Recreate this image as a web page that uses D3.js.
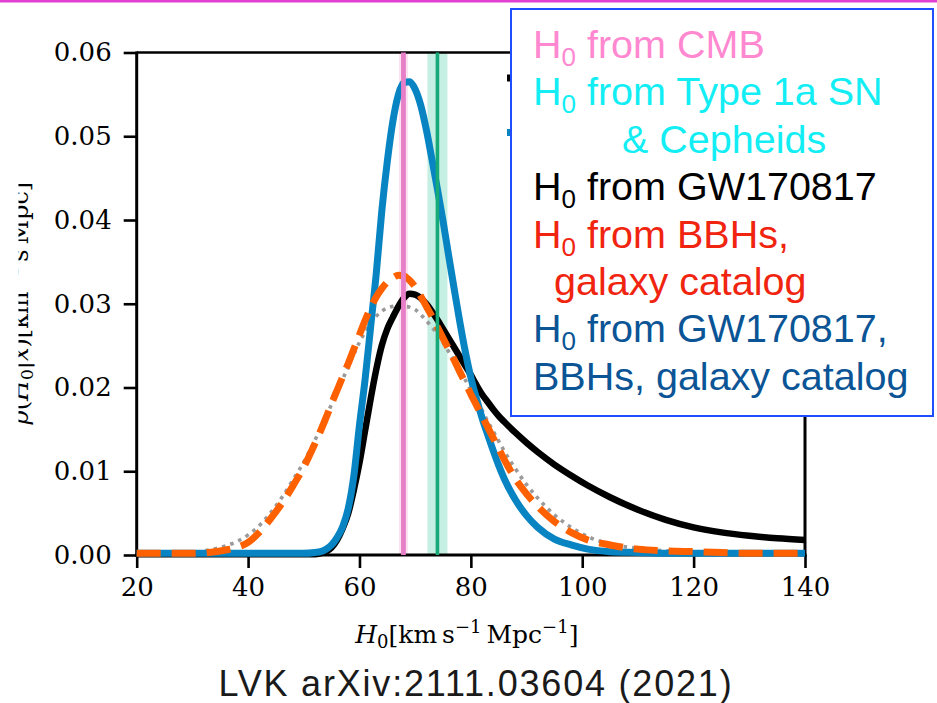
<!DOCTYPE html>
<html>
<head>
<meta charset="utf-8">
<script src="https://cdn.jsdelivr.net/npm/d3@7/dist/d3.min.js"></script>
<style>
  html, body { margin: 0; padding: 0; background: #fff; }
  svg { display: block; }
</style>
</head>
<body>
<script>
// H0 grid (km/s/Mpc) shared by all posterior curves
const h0 = [20, 25, 30, 33, 36, 38, 40, 42, 44, 46, 48, 50, 52, 53, 54, 55, 56, 57, 58, 59,
            60, 61, 62, 63, 64, 65, 66, 67, 68, 69, 70, 71, 72, 73, 74, 75, 76, 77, 78, 79,
            80, 81, 82, 83, 84, 85, 86, 88, 90, 92, 95, 98, 101, 105, 110, 115, 120, 125, 130, 135, 140];

// GW170817 + BBHs + galaxy catalog (combined)
const pCombined = [.0002, .0002, .0002, .0002, .0002, .0002, .0002, .0002, .0002, .0002, .0002, .0002, .0003, .0004, .0007, .0012, .0021, .0034, .0056, .0095,
                   .0155, .0209, .0272, .0335, .0410, .0470, .0518, .0550, .0564, .0565, .0556, .0537, .0508, .0473, .0437, .0399, .0358, .0318, .0279, .0243,
                   .0212, .0187, .0164, .0144, .0125, .0107, .0091, .0066, .0047, .0033, .0019, .0012, .0007, .0004, .0003, .0002, .0002, .0002, .0002, .0002, .0002];

// GW170817 (bright siren)
const pGW170817 = [.0001, .0001, .0001, .0001, .0001, .0001, .0001, .0001, .0001, .0001, .0001, .0001, .0001, .0002, .0004, .0009, .0018, .0032, .0050, .0078,
                   .0110, .0148, .0186, .0221, .0250, .0270, .0284, .0297, .0307, .0312, .0311, .0307, .0300, .0291, .0281, .0270, .0259, .0248, .0237, .0226,
                   .0215, .0203, .0192, .0183, .0174, .0166, .0159, .0146, .0134, .0123, .0108, .0095, .0083, .0069, .0054, .0042, .0033, .0027, .0023, .0020, .0018];

// BBHs + galaxy catalog
const pBBH = [.0002, .0002, .0002, .0003, .0006, .0009, .0015, .0027, .0043, .0061, .0082, .0105, .0133, .0148, .0164, .0181, .0197, .0213, .0229, .0246,
              .0263, .0280, .0295, .0308, .0318, .0326, .0331, .0334, .0333, .0328, .0320, .0309, .0297, .0285, .0272, .0259, .0246, .0233, .0219, .0206,
              .0192, .0179, .0166, .0153, .0140, .0127, .0114, .0091, .0073, .0058, .0040, .0027, .0018, .0012, .0007, .0005, .0004, .0003, .0002, .0002, .0002];

// BBHs, alternative analysis (dotted)
const pBBHAlt = [.0001, .0001, .0003, .0006, .0011, .0016, .0024, .0035, .0050, .0068, .0089, .0111, .0137, .0151, .0166, .0180, .0195, .0210, .0225, .0240,
                 .0254, .0266, .0277, .0285, .0291, .0295, .0297, .0298, .0297, .0296, .0293, .0287, .0280, .0272, .0264, .0254, .0243, .0232, .0221, .0209,
                 .0197, .0185, .0173, .0160, .0148, .0136, .0124, .0103, .0084, .0068, .0048, .0033, .0022, .0013, .0008, .0005, .0003, .0002, .0001, .0001, .0001];

// Reference measurements: [central value, half-width of band]
const h0CMB = [67.9, 0.8];
const h0SN = [74.0, 1.8];

const xTicks = [20, 40, 60, 80, 100, 120, 140];
const yTicks = [0, 0.01, 0.02, 0.03, 0.04, 0.05, 0.06];

// Legend text rows: [main, subscript, rest]
const legendRows = [
  ["H", "0", " from CMB"],
  ["H", "0", " from Type 1a SN"],
  ["", "", "& Cepheids"],
  ["H", "0", " from GW170817"],
  ["H", "0", " from BBHs,"],
  ["", "", "galaxy catalog"],
  ["H", "0", " from GW170817,"],
  ["", "", "BBHs, galaxy catalog"]
];
const caption = "LVK arXiv:2111.03604 (2021)";

// ---------------------------------------------------------------------------
const W = 937, H = 703;
const svg = d3.select("body").append("svg").attr("width", W).attr("height", H);

const plot = { left: 136.7, right: 805, top: 52.5, bottom: 555 };
const x = d3.scaleLinear().domain([20, 140]).range([plot.left, plot.right]);
const y = d3.scaleLinear().domain([0, 0.06]).range([plot.bottom, plot.top]);

// slide accent line along the top edge
svg.append("rect").attr("x", 0).attr("y", 0).attr("width", W).attr("height", 2.5).attr("fill", "#e23fd2");

// reference bands
const bands = svg.append("g");
bands.append("rect")
  .attr("x", x(h0CMB[0] - h0CMB[1])).attr("width", x(h0CMB[0] + h0CMB[1]) - x(h0CMB[0] - h0CMB[1]))
  .attr("y", plot.top).attr("height", plot.bottom - plot.top).attr("fill", "#fbe1f1");
bands.append("rect")
  .attr("x", x(h0SN[0] - h0SN[1])).attr("width", x(h0SN[0] + h0SN[1]) - x(h0SN[0] - h0SN[1]))
  .attr("y", plot.top).attr("height", plot.bottom - plot.top).attr("fill", "#c6efe3");

// axes
const tickFont = "'DejaVu Serif', serif";
const yAxis = svg.append("g").attr("transform", `translate(${plot.left},0)`)
  .call(d3.axisLeft(y).tickValues(yTicks).tickFormat(d3.format(".2f")).tickSize(13).tickPadding(12).tickSizeOuter(0));
const xAxis = svg.append("g").attr("transform", `translate(0,${plot.bottom})`)
  .call(d3.axisBottom(x).tickValues(xTicks).tickFormat(d3.format("d")).tickSize(13).tickPadding(10).tickSizeOuter(0));
[yAxis, xAxis].forEach(g => {
  g.select(".domain").remove();
  g.selectAll(".tick line").attr("stroke", "#000").attr("stroke-width", 2.6);
  g.selectAll(".tick text").attr("fill", "#000").style("font-family", tickFont).style("font-size", "26px");
});

// spines
const spines = svg.append("g").attr("stroke", "#000").attr("fill", "none");
spines.append("line").attr("x1", plot.left).attr("x2", plot.left).attr("y1", plot.top - 1).attr("y2", plot.bottom + 1.5).attr("stroke-width", 3);
spines.append("line").attr("x1", plot.left - 1.5).attr("x2", plot.right + 1.5).attr("y1", plot.bottom).attr("y2", plot.bottom).attr("stroke-width", 3);
spines.append("line").attr("x1", plot.left).attr("x2", plot.right).attr("y1", plot.top).attr("y2", plot.top).attr("stroke-width", 2.3);
spines.append("line").attr("x1", plot.right).attr("x2", plot.right).attr("y1", plot.top).attr("y2", plot.bottom + 1.5).attr("stroke-width", 3);

// posterior curves (dotted one underneath)
const line = d3.line().x(d => x(d[0])).y(d => y(d[1])).curve(d3.curveMonotoneX);
const series = [
  { p: pBBHAlt, color: "#9a9a9a", width: 3.6, dash: "3.6,5" },
  { p: pGW170817, color: "#000000", width: 6.5, dash: null },
  { p: pCombined, color: "#0884c2", width: 7, dash: null },
  { p: pBBH, color: "#ff6000", width: 7, dash: "24,11" }
];
const curves = svg.append("g").attr("fill", "none");
series.forEach(s => {
  curves.append("path")
    .datum(h0.map((h, i) => [h, s.p[i]]))
    .attr("d", line)
    .attr("stroke", s.color)
    .attr("stroke-width", s.width)
    .attr("stroke-dasharray", s.dash)
    .attr("stroke-linejoin", "round");
});

// reference lines
svg.append("line").attr("x1", x(h0CMB[0])).attr("x2", x(h0CMB[0]))
  .attr("y1", plot.top).attr("y2", plot.bottom).attr("stroke", "#e67fc7").attr("stroke-width", 4.8);
svg.append("line").attr("x1", x(h0SN[0])).attr("x2", x(h0SN[0]))
  .attr("y1", plot.top).attr("y2", plot.bottom).attr("stroke", "#15aa77").attr("stroke-width", 3.6);

// handle stubs of the plot's own legend, mostly under the text box
svg.append("line").attr("x1", 507).attr("x2", 530).attr("y1", 78).attr("y2", 78).attr("stroke", "#000").attr("stroke-width", 7);
svg.append("line").attr("x1", 507).attr("x2", 530).attr("y1", 132.5).attr("y2", 132.5).attr("stroke", "#0884c2").attr("stroke-width", 7);

// axis titles (y title is cut at the left by the slide edge)
svg.append("clipPath").attr("id", "ylabclip")
  .append("rect").attr("x", 18.5).attr("y", 0).attr("width", 100).attr("height", H);
const yLab = svg.append("g").attr("clip-path", "url(#ylabclip)")
  .append("text")
  .attr("transform", `translate(27.5,${(plot.top + plot.bottom) / 2}) rotate(-90)`)
  .attr("text-anchor", "middle")
  .style("font-family", tickFont).style("font-size", "24px").attr("fill", "#000");
yLab.append("tspan").style("font-style", "italic").text("p");
yLab.append("tspan").text("(");
yLab.append("tspan").style("font-style", "italic").text("H");
yLab.append("tspan").attr("dy", 5).style("font-size", "17px").text("0");
yLab.append("tspan").attr("dy", -5).text("|");
yLab.append("tspan").style("font-style", "italic").text("x");
yLab.append("tspan").text(")[km");
yLab.append("tspan").attr("dy", -10).style("font-size", "17px").text("\u22121");
yLab.append("tspan").attr("dy", 10).text("\u2009s\u2009Mpc]");

const xLab = svg.append("text")
  .attr("x", (plot.left + plot.right) / 2 - 4).attr("y", 643)
  .attr("text-anchor", "middle")
  .style("font-family", tickFont).style("font-size", "25px").attr("fill", "#000");
xLab.append("tspan").style("font-style", "italic").text("H");
xLab.append("tspan").attr("dy", 5).style("font-size", "18px").text("0");
xLab.append("tspan").attr("dy", -5).text("[km\u2009s");
xLab.append("tspan").attr("dy", -10).style("font-size", "18px").text("\u22121");
xLab.append("tspan").attr("dy", 10).text("\u2009Mpc");
xLab.append("tspan").attr("dy", -10).style("font-size", "18px").text("\u22121");
xLab.append("tspan").attr("dy", 10).text("]");

// text legend box
const box = { x: 511, y: 9, w: 422, h: 407 };
svg.append("rect").attr("x", box.x).attr("y", box.y).attr("width", box.w).attr("height", box.h)
  .attr("fill", "#fff").attr("stroke", "#1f4dff").attr("stroke-width", 2);
const rowColors = ["#ff88d0", "#12eef4", "#12eef4", "#000000", "#f0240f", "#f0240f", "#0b5596", "#0b5596"];
const rowIndent = [533, 533, 622, 533, 533, 554, 533, 533];
legendRows.forEach((r, i) => {
  const t = svg.append("text")
    .attr("x", rowIndent[i]).attr("y", 58 + i * 47.4)
    .attr("fill", rowColors[i])
    .style("font-family", "'Liberation Sans', Arial, sans-serif").style("font-size", "39.5px");
  if (r[0]) {
    t.append("tspan").text(r[0]);
    t.append("tspan").attr("dy", 8).style("font-size", "26px").text(r[1]);
    t.append("tspan").attr("dy", -8).text(r[2]);
  } else {
    t.append("tspan").text(r[2]);
  }
});

// citation
svg.append("text").attr("x", 476).attr("y", 696).attr("text-anchor", "middle")
  .style("font-family", "'Liberation Sans', Arial, sans-serif").style("font-size", "36px")
  .style("letter-spacing", "1.8px")
  .attr("fill", "#1a1a1a").text(caption);
</script>
</body>
</html>
